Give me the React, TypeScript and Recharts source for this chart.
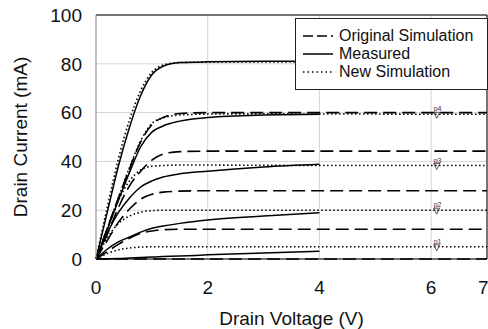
import React from 'react'
import {
  LineChart,
  Line,
  XAxis,
  YAxis,
  CartesianGrid,
  ReferenceLine,
  ReferenceDot,
  Legend,
} from 'recharts'

// drain voltage samples (V)
const vMeasured = [0, 0.2, 0.4, 0.6, 0.8, 1, 1.2, 1.5, 2, 3, 4]
const vSim = [0, 0.2, 0.4, 0.6, 0.8, 1, 1.2, 1.5, 2, 3, 4, 5, 6, 7]

// measured drain current (mA), one array per gate bias
const measured1 = [0, 19, 38, 54, 67, 75.5, 79, 80.5, 80.8, 81, 81]
const measured2 = [0, 12, 24, 35.5, 46, 52, 54.5, 56.5, 58, 59, 59.3]
const measured3 = [0, 10.5, 19, 25, 29.5, 32, 33.6, 34.9, 36, 37.7, 38.8]
const measured4 = [0, 4, 7, 9, 11, 12.6, 13.5, 14.6, 16, 17.6, 19]
const measured5 = [0, 0.1, 0.2, 0.4, 0.6, 0.8, 1, 1.2, 1.7, 2.5, 3.2]

// original simulation
const original1 = [0, 12.5, 25, 37, 48, 55, 58, 59.6, 60, 60, 60, 60, 60, 60]
const original2 = [0, 10, 21, 30, 36, 40.5, 43, 44, 44.2, 44.2, 44.2, 44.2, 44.2, 44.2]
const original3 = [0, 7.5, 15, 20.5, 24.5, 26.5, 27.4, 27.8, 28, 28, 28, 28, 28, 28]
const original4 = [0, 3, 6, 8.5, 10.5, 11.5, 12, 12.2, 12.2, 12.2, 12.2, 12.2, 12.2, 12.2]
const original5 = [0, 0, 0, 0, 0, 0, 0, 0, 0, 0, 0, 0, 0, 0]

// new simulation
const newSim1 = [0, 21, 41, 57, 69, 76.5, 79.5, 80.5, 80.7, 80.8, 80.8, 80.7, 80.6, 80.5]
const newSim2 = [0, 12.5, 25, 37.5, 48.5, 55.5, 57.8, 59, 59.4, 59.5, 59.4, 59.4, 59.3, 59.3]
const newSim3 = [0, 12, 24, 32, 36.5, 38, 38.3, 38.5, 38.5, 38.4, 38.3, 38.3, 38.3, 38.3]
const newSim4 = [0, 8.5, 14.5, 17.6, 19.2, 19.8, 20, 20, 20, 20, 20, 20, 20, 20]
const newSim5 = [0, 2.2, 3.8, 4.5, 4.9, 5, 5, 5, 5, 5, 5, 5, 5, 5]

// probe markers on the new simulation curves
const probeV = 6.1
const probeLabels = ['p1', 'p2', 'p3', 'p4']
const probeCurrents = [5, 20, 38.3, 59.3]

const xTicks = [0, 2, 4, 6, 7]
const yTicks = [0, 20, 40, 60, 80, 100]

const toPoints = (xs: number[], ys: number[]) => ys.map((y, i) => ({ v: xs[i], i: y }))

const measuredSeries = [measured1, measured2, measured3, measured4, measured5]
const originalSeries = [original1, original2, original3, original4, original5]
const newSimSeries = [newSim1, newSim2, newSim3, newSim4, newSim5]

const FONT = '"Liberation Sans", Arial, sans-serif'

const legendItems = [
  { name: 'Original Simulation', dash: '10 4' },
  { name: 'Measured', dash: undefined },
  { name: 'New Simulation', dash: '1.5 3' },
]

const ChartLegend = () => (
  <div
    style={{
      border: '1px solid #222',
      background: '#fff',
      width: 184,
      padding: '8px 0 8px 7px',
      fontFamily: FONT,
      fontSize: 16,
      lineHeight: '18px',
      color: '#111',
    }}
  >
    {legendItems.map((it) => (
      <div key={it.name} style={{ display: 'flex', alignItems: 'center' }}>
        <svg width={30} height={10} style={{ marginRight: 6 }}>
          <line x1={0} y1={5} x2={30} y2={5} stroke="#000" strokeWidth={1.5} strokeDasharray={it.dash} />
        </svg>
        <span>{it.name}</span>
      </div>
    ))}
  </div>
)

const ProbeMark = (props: any) => {
  const { cx, cy, label } = props
  return (
    <g>
      <text x={cx - 3} y={cy - 3} fontSize={7} fontFamily={FONT} fill="#333">
        {label}
      </text>
      <path d={`M${cx - 3},${cy - 2} L${cx + 3},${cy - 2} L${cx},${cy + 4} Z`} fill="none" stroke="#333" strokeWidth={0.8} />
    </g>
  )
}

export default function App() {
  return (
    <div style={{ position: 'absolute', left: 0, top: 0, background: '#fff' }}>
      <LineChart width={488} height={329} margin={{ top: 15, right: 1, left: 0, bottom: 0 }}>
        <CartesianGrid stroke="#d4d4d4" strokeWidth={1} />
        <XAxis
          dataKey="v"
          type="number"
          domain={[0, 7]}
          ticks={xTicks}
          allowDuplicatedCategory={false}
          height={70}
          tickSize={0}
          tickMargin={22}
          axisLine={{ stroke: '#000' }}
          tick={{ fill: '#111', fontSize: 19, fontFamily: FONT }}
          label={{
            value: 'Drain Voltage (V)',
            position: 'insideBottom',
            offset: 4,
            style: { fill: '#111', fontSize: 19, fontFamily: FONT },
          }}
        />
        <YAxis
          type="number"
          domain={[0, 100]}
          ticks={yTicks}
          width={96}
          tickSize={0}
          tickMargin={14}
          axisLine={{ stroke: '#999' }}
          tick={{ fill: '#111', fontSize: 19, fontFamily: FONT }}
          label={{
            value: 'Drain Current (mA)',
            angle: -90,
            position: 'insideLeft',
            offset: 20,
            style: { textAnchor: 'middle', fill: '#111', fontSize: 19, fontFamily: FONT },
          }}
        />
        <ReferenceLine y={100} stroke="#000" strokeWidth={1} />
        <ReferenceLine x={7} stroke="#000" strokeWidth={1} />

        {originalSeries.map((s, k) => (
          <Line
            key={`o${k}`}
            data={toPoints(vSim, s)}
            dataKey="i"
            type="monotone"
            stroke="#000"
            strokeWidth={1.6}
            strokeDasharray="13 6"
            dot={false}
            isAnimationActive={false}
            legendType="none"
          />
        ))}
        {newSimSeries.map((s, k) => (
          <Line
            key={`n${k}`}
            data={toPoints(vSim, s)}
            dataKey="i"
            type="monotone"
            stroke="#000"
            strokeWidth={1.6}
            strokeDasharray="1.5 2.5"
            dot={false}
            isAnimationActive={false}
            legendType="none"
          />
        ))}
        {measuredSeries.map((s, k) => (
          <Line
            key={`m${k}`}
            data={toPoints(vMeasured, s)}
            dataKey="i"
            type="monotone"
            stroke="#000"
            strokeWidth={1.5}
            dot={false}
            isAnimationActive={false}
            legendType="none"
          />
        ))}

        {probeLabels.map((lab, k) => (
          <ReferenceDot
            key={lab}
            x={probeV}
            y={probeCurrents[k]}
            r={3}
            shape={(p: any) => <ProbeMark {...p} label={lab} />}
          />
        ))}

        <Legend
          layout="horizontal"
          verticalAlign="middle"
          align="center"
          content={() => <ChartLegend />}
          wrapperStyle={{ position: 'absolute', left: 295, top: 18, width: 'auto' }}
        />
      </LineChart>
    </div>
  )
}
